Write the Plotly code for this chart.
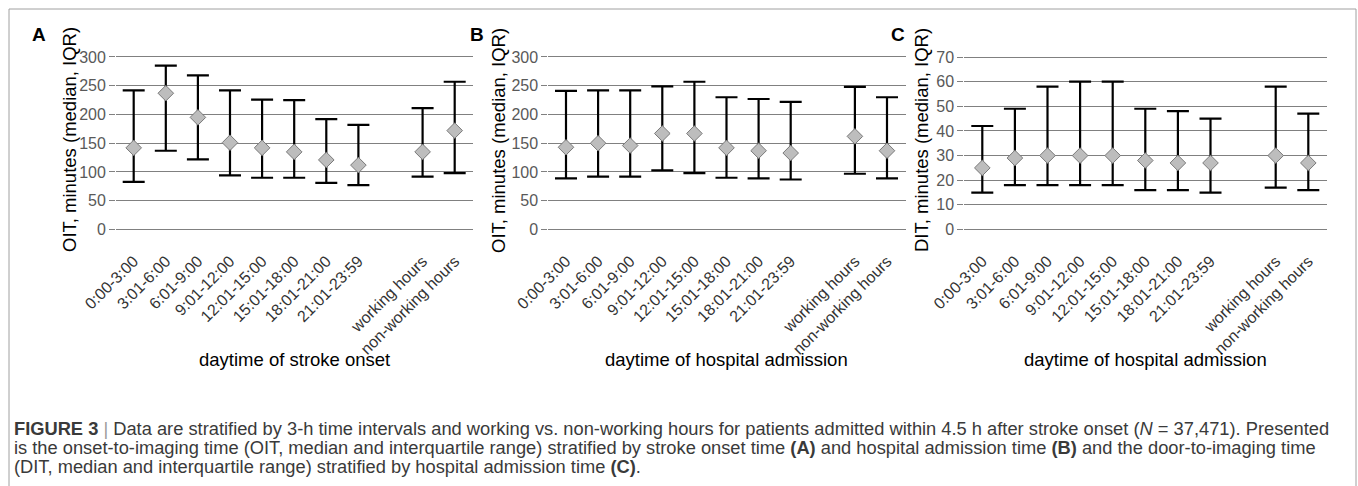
import plotly.graph_objects as go

# ---------------- data ----------------
categories = ["0:00-3:00", "3:01-6:00", "6:01-9:00", "9:01-12:00", "12:01-15:00",
              "15:01-18:00", "18:01-21:00", "21:01-23:59", "working hours", "non-working hours"]
cat_pos = [0, 1, 2, 3, 4, 5, 6, 7, 9, 10]

a_median = [142, 237, 195, 151, 142, 135, 121, 112, 135, 172]
a_q1 = [83, 137, 122, 94, 90, 90, 81, 77, 92, 98]
a_q3 = [242, 285, 268, 242, 226, 225, 192, 182, 211, 257]

b_median = [143, 150, 146, 167, 167, 142, 137, 133, 162, 137]
b_q1 = [89, 92, 92, 103, 98, 90, 89, 87, 97, 89]
b_q3 = [241, 242, 242, 249, 257, 230, 227, 222, 248, 230]

c_median = [25, 29, 30, 30, 30, 28, 27, 27, 30, 27]
c_q1 = [15, 18, 18, 18, 18, 16, 16, 15, 17, 16]
c_q3 = [42, 49, 58, 60, 60, 49, 48, 45, 58, 47]

oit_ticks = [0, 50, 100, 150, 200, 250, 300]
dit_ticks = [0, 10, 20, 30, 40, 50, 60, 70]

panel_letters = ["A", "B", "C"]
y_titles = ["OIT, minutes (median, IQR)", "OIT, minutes (median, IQR)", "DIT, minutes (median, IQR)"]
x_titles = ["daytime of stroke onset", "daytime of hospital admission", "daytime of hospital admission"]

caption_lines = [
    "<b>FIGURE 3</b> <span style='color:#9a9a9a'>|</span> Data are stratified by 3-h time intervals and working vs. non-working hours for patients admitted within 4.5 h after stroke onset (<i>N</i> = 37,471). Presented",
    "is the onset-to-imaging time (OIT, median and interquartile range) stratified by stroke onset time <b>(A)</b> and hospital admission time <b>(B)</b> and the door-to-imaging time",
    "(DIT, median and interquartile range) stratified by hospital admission time <b>(C)</b>.",
]

# ---------------- layout geometry (pixels) ----------------
W, H = 1358, 486
FONT = "Liberation Sans, Arial, sans-serif"
panels = [
    dict(x0=133.7, dx=32.1, med=a_median, q1=a_q1, q3=a_q3, ymax=300, ticks=oit_ticks,
         letter_x=39, ytitle_x=69),
    dict(x0=566.0, dx=32.1, med=b_median, q1=b_q1, q3=b_q3, ymax=300, ticks=oit_ticks,
         letter_x=477, ytitle_x=498),
    dict(x0=982.3, dx=32.6, med=c_median, q1=c_q1, q3=c_q3, ymax=70, ticks=dit_ticks,
         letter_x=898, ytitle_x=921),
]
XLO, XHI = -0.55, 10.58
Y_TOP_PX, Y_BOT_PX = 57.0, 229.5

fig = go.Figure()
annotations = []
for i, p in enumerate(panels):
    n = i + 1
    xa = "x" if n == 1 else f"x{n}"
    ya = "y" if n == 1 else f"y{n}"
    fig.add_trace(go.Scatter(
        x=cat_pos, y=p["med"], mode="markers", xaxis=xa, yaxis=ya, showlegend=False,
        marker=dict(symbol="diamond", size=12, color="#BDBDBD",
                    line=dict(color="#7a7a7a", width=1)),
        error_y=dict(type="data", symmetric=False,
                     array=[h - m for h, m in zip(p["q3"], p["med"])],
                     arrayminus=[m - l for m, l in zip(p["med"], p["q1"])],
                     color="black", thickness=2.2, width=11),
    ))
    left_px = p["x0"] + XLO * p["dx"]
    right_px = p["x0"] + XHI * p["dx"]
    ymax = p["ymax"]
    lo, hi = -0.03 * ymax, 1.03 * ymax
    scale = (Y_BOT_PX - Y_TOP_PX) / ymax
    bot_px = Y_BOT_PX - lo * scale
    top_px = Y_BOT_PX - hi * scale
    xkey = "xaxis" if n == 1 else f"xaxis{n}"
    ykey = "yaxis" if n == 1 else f"yaxis{n}"
    fig.update_layout(**{
        xkey: dict(domain=[left_px / W, right_px / W], range=[XLO, XHI], anchor=ya,
                   automargin=False,
                   tickmode="array", tickvals=cat_pos, ticktext=categories, tickangle=-45,
                   showgrid=False, zeroline=False, showline=False,
                   ticks="outside", ticklen=10, tickcolor="rgba(0,0,0,0)",
                   tickfont=dict(family=FONT, size=16, color="#333333")),
        ykey: dict(domain=[1 - bot_px / H, 1 - top_px / H], range=[lo, hi], anchor=xa,
                   automargin=False,
                   tickmode="array", tickvals=p["ticks"], showgrid=True, gridcolor="#808080",
                   gridwidth=1, zeroline=False, showline=False,
                   ticks="outside", ticklen=6, tickcolor="#808080", tickwidth=1,
                   tickfont=dict(family=FONT, size=16, color="#595959")),
    })
    annotations.append(dict(text=f"<b>{panel_letters[i]}</b>", x=p["letter_x"] / W, y=1 - 35 / H,
                            xref="paper", yref="paper", showarrow=False, xanchor="center",
                            yanchor="middle", font=dict(family=FONT, size=19, color="black")))
    annotations.append(dict(text=y_titles[i], x=p["ytitle_x"] / W, y=1 - 140 / H, textangle=-90,
                            xref="paper", yref="paper", showarrow=False, xanchor="center",
                            yanchor="middle", font=dict(family=FONT, size=18.5, color="black")))
    annotations.append(dict(text=x_titles[i], x=(left_px + right_px) / 2 / W, y=1 - 359 / H,
                            xref="paper", yref="paper", showarrow=False, xanchor="center",
                            yanchor="middle", font=dict(family=FONT, size=18.5, color="black")))

for k, line in enumerate(caption_lines):
    annotations.append(dict(text=line, x=12 / W, y=1 - (428 + 19 * k) / H, xref="paper",
                            yref="paper", showarrow=False, xanchor="left", yanchor="middle",
                            font=dict(family=FONT, size=18.3, color="#3a3a3a")))

fig.update_layout(
    width=W, height=H, margin=dict(l=0, r=0, t=0, b=0, autoexpand=False),
    paper_bgcolor="white", plot_bgcolor="white",
    annotations=annotations,
    shapes=[dict(type="rect", xref="paper", yref="paper", x0=9 / W, x1=1356 / W,
                 y0=-0.05, y1=1 - 9 / H, line=dict(color="#a0a0a0", width=1))],
)

fig.write_html("out.html")
